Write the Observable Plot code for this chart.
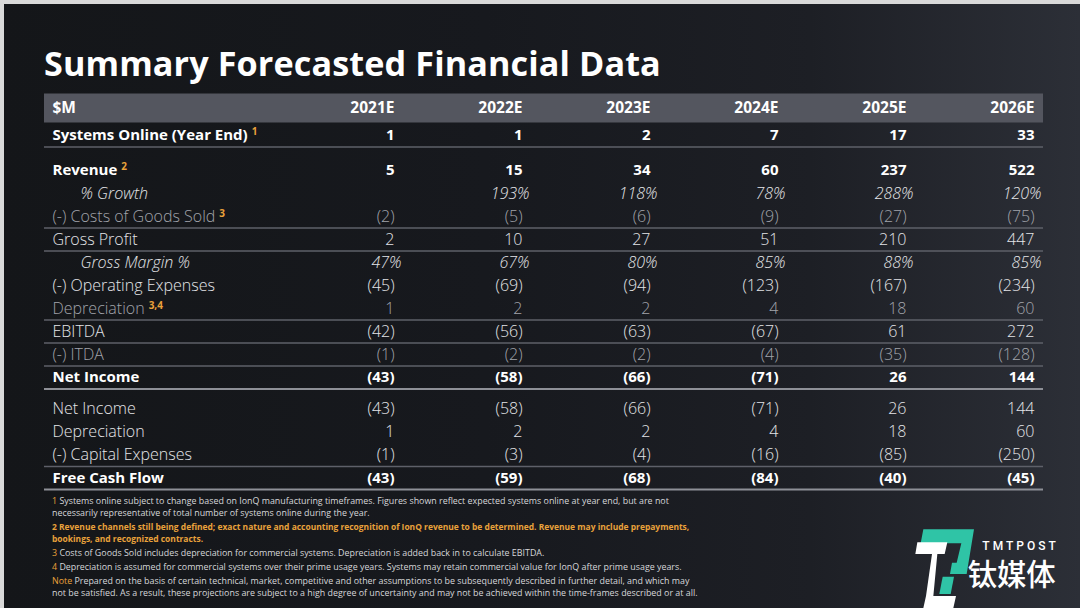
<!DOCTYPE html>
<html>
<head>
<meta charset="utf-8">
<script src="https://cdn.jsdelivr.net/npm/d3@7"></script>
<script src="https://cdn.jsdelivr.net/npm/@observablehq/plot@0.6"></script>
<style>
html, body { margin: 0; padding: 0; background: #151719; }
#page {
  position: relative; width: 1080px; height: 608px; overflow: hidden;
  background: linear-gradient(90deg, #141619 0%, #17191e 45%, #1d1f25 75%, #2c2f37 100%);
  box-shadow: inset 4px 4px 0 #d9d9d9;
  font-family: "Open Sans", Roboto, sans-serif;
}
#title {
  position: absolute; left: 44px; top: 46px; margin: 0;
  font-size: 34.2px; line-height: 34px; font-weight: 700; color: #ffffff; letter-spacing: 0.1px;
}
#table { position: absolute; left: 0; top: 86px; }
#notes {
  position: absolute; left: 52px; top: 495px; width: 740px;
  font-size: 8.9px; line-height: 12.3px; color: #d6d7da;
}
#notes p { margin: 0 0 1.6px 0; white-space: nowrap; }
#notes .o { color: #e9a23b; }
#notes .ob { color: #e9a23b; font-weight: 700; font-size: 8.45px; line-height: 12.3px; }
#logo { position: absolute; left: 900px; top: 510px; }
</style>
</head>
<body>
<div id="page">
  <h1 id="title">Summary Forecasted Financial Data</h1>
  <div id="table"></div>
  <div id="notes">
    <p><span class="o">1</span> Systems online subject to change based on IonQ manufacturing timeframes. Figures shown reflect expected systems online at year end, but are not<br>necessarily representative of total number of systems online during the year.</p>
    <p class="ob">2 Revenue channels still being defined; exact nature and accounting recognition of IonQ revenue to be determined. Revenue may include prepayments,<br>bookings, and recognized contracts.</p>
    <p><span class="o">3</span> Costs of Goods Sold includes depreciation for commercial systems. Depreciation is added back in to calculate EBITDA.</p>
    <p><span class="o">4</span> Depreciation is assumed for commercial systems over their prime usage years. Systems may retain commercial value for IonQ after prime usage years.</p>
    <p><span class="o">Note</span> Prepared on the basis of certain technical, market, competitive and other assumptions to be subsequently described in further detail, and which may<br>not be satisfied. As a result, these projections are subject to a high degree of uncertainty and may not be achieved within the time-frames described or at all.</p>
  </div>
  <svg id="logo" width="180" height="98" viewBox="0 0 540 294">
    <polygon points="70,58 222,58 200,192 150,192 156,158 170,158 184,100 62,100" fill="#2fc4a6"/>
    <polygon points="128,200 162,200 152,252 118,252" fill="#2fc4a6"/>
    <polygon points="52,97 142,97 134,132 112,132 100,258 168,258 160,294 70,294 78,258 96,132 46,132" fill="#ffffff"/>
    <text x="247" y="121" font-family="Roboto, sans-serif" font-size="36" font-weight="500" letter-spacing="9" fill="#ffffff">TMTPOST</text>
    <text x="203" y="226" font-family="'Noto Sans CJK SC', sans-serif" font-size="88" font-weight="500" fill="#ffffff">钛媒体</text>
  </svg>
</div>
<script>
// ---- data ----
const unitHeader = "$M";
const years = ["2021E", "2022E", "2023E", "2024E", "2025E", "2026E"];
const systemsOnline = [1, 1, 2, 7, 17, 33];
const revenue = [5, 15, 34, 60, 237, 522];
const revenueGrowth = [null, 193, 118, 78, 288, 120];
const costOfGoodsSold = [-2, -5, -6, -9, -27, -75];
const grossProfit = [2, 10, 27, 51, 210, 447];
const grossMargin = [47, 67, 80, 85, 88, 85];
const operatingExpenses = [-45, -69, -94, -123, -167, -234];
const depreciation = [1, 2, 2, 4, 18, 60];
const ebitda = [-42, -56, -63, -67, 61, 272];
const itda = [-1, -2, -2, -4, -35, -128];
const netIncome = [-43, -58, -66, -71, 26, 144];
const capitalExpenses = [-1, -3, -4, -16, -85, -250];
const freeCashFlow = [-43, -59, -68, -84, -40, -45];
const rowLabels = [
  "Systems Online (Year End)", "Revenue", "% Growth", "(-) Costs of Goods Sold",
  "Gross Profit", "Gross Margin %", "(-) Operating Expenses", "Depreciation",
  "EBITDA", "(-) ITDA", "Net Income", "Net Income", "Depreciation",
  "(-) Capital Expenses", "Free Cash Flow"
];
const footnoteRefs = ["1", "2", "", "3", "", "", "", "3,4", "", "", "", "", "", "", ""];

// ---- structure / styling ----
const rowSeries = [systemsOnline, revenue, revenueGrowth, costOfGoodsSold, grossProfit,
  grossMargin, operatingExpenses, depreciation, ebitda, itda, netIncome, netIncome,
  depreciation, capitalExpenses, freeCashFlow];
const rowKind = ["bold", "bold", "italic", "muted", "normal", "italic", "normal", "muted",
  "normal", "muted", "bold", "normal", "normal", "normal", "bold"];
const percentRows = new Set([2, 5]);
const thinRuleAfter = new Set([0, 3, 4, 7, 8, 9, 13]);
const strongRuleAfter = new Set([10, 14]);
const extraGapBefore = new Map([[1, 0.52], [11, 0.37]]);

let slot = 0;
const rows = rowLabels.map((label, i) => {
  if (extraGapBefore.has(i)) slot += extraGapBefore.get(i);
  const r = {i, label, ref: footnoteRefs[i], kind: rowKind[i], slot};
  slot += 1;
  return r;
});
const headerSlot = -1.196;
const fmt = (v, i) => percentRows.has(i) ? `${v}%` : (v < 0 ? `(${-v})` : `${v}`);
const cells = rows.flatMap(r => years.map((year, j) => ({
  year, slot: r.slot, kind: r.kind, value: rowSeries[r.i][j],
  text: rowSeries[r.i][j] == null ? null : fmt(rowSeries[r.i][j], r.i)
}))).filter(d => d.value != null);

const styles = {
  bold:   {fill: "#ffffff", fontWeight: 700, fontSize: 15, fontStyle: "normal", indent: 8, vdx: 0},
  normal: {fill: "#e4e5e8", fontWeight: 300, fontSize: 16, fontStyle: "normal", indent: 8, vdx: 0},
  muted:  {fill: "#a2a4ab", fontWeight: 300, fontSize: 16, fontStyle: "normal", indent: 8, vdx: 0},
  italic: {fill: "#e4e5e8", fontWeight: 300, fontSize: 16, fontStyle: "italic", indent: 36, vdx: 7}
};

const svgTop = 86;
const rowStep = 23;
const y0 = 135 - svgTop;

const marks = [
  Plot.ruleY([headerSlot], {stroke: "#54565f", strokeWidth: 29}),
  Plot.text([unitHeader], {y: () => headerSlot, text: d => d, frameAnchor: "left", dx: 8,
    fill: "#ffffff", fontWeight: 700, fontSize: 15.5, textAnchor: "start"}),
  Plot.text(years, {x: d => d, y: () => headerSlot, text: d => d, textAnchor: "end",
    fill: "#ffffff", fontWeight: 700, fontSize: 15.5}),
  Plot.ruleY(rows.filter(r => thinRuleAfter.has(r.i)), {y: r => r.slot + 0.5, stroke: "#5e6069", strokeWidth: 1.6}),
  Plot.ruleY(rows.filter(r => strongRuleAfter.has(r.i)), {y: r => r.slot + 0.5, stroke: "#8e9097", strokeWidth: 2})
];
for (const [k, s] of Object.entries(styles)) {
  marks.push(Plot.text(rows.filter(r => r.kind === k), {
    y: "slot", text: "label", frameAnchor: "left", dx: s.indent, textAnchor: "start",
    fill: s.fill, fontWeight: s.fontWeight, fontSize: s.fontSize, fontStyle: s.fontStyle,
    ariaDescription: "label-" + k
  }));
  marks.push(Plot.text(cells.filter(c => c.kind === k), {
    x: "year", y: "slot", text: "text", textAnchor: "end", dx: s.vdx,
    fill: s.fill, fontWeight: s.fontWeight, fontSize: s.fontSize, fontStyle: s.fontStyle
  }));
}

const chart = Plot.plot({
  width: 1080, height: 410,
  marginTop: 0, marginBottom: 0, marginLeft: 44, marginRight: 37,
  x: {type: "point", domain: years, range: [393, 1034], padding: 0, axis: null},
  y: {type: "linear", domain: [0, 1], range: [y0, y0 + rowStep], axis: null},
  style: {background: "transparent", fontFamily: "'Open Sans', Roboto, sans-serif", overflow: "visible"},
  marks
});

// footnote superscripts after labels
const ns = "http://www.w3.org/2000/svg";
for (const k of Object.keys(styles)) {
  const list = rows.filter(r => r.kind === k);
  chart.querySelectorAll(`g[aria-description="label-${k}"] text`).forEach((t, j) => {
    const r = list[j];
    if (r && r.ref) {
      const ts = document.createElementNS(ns, "tspan");
      ts.setAttribute("dx", "4");
      ts.setAttribute("dy", "-5");
      ts.setAttribute("font-size", "10");
      ts.setAttribute("font-weight", "700");
      ts.setAttribute("font-style", "normal");
      ts.setAttribute("fill", "#e9a23b");
      ts.textContent = r.ref;
      t.appendChild(ts);
    }
  });
}
document.getElementById("table").appendChild(chart);
</script>
</body>
</html>
